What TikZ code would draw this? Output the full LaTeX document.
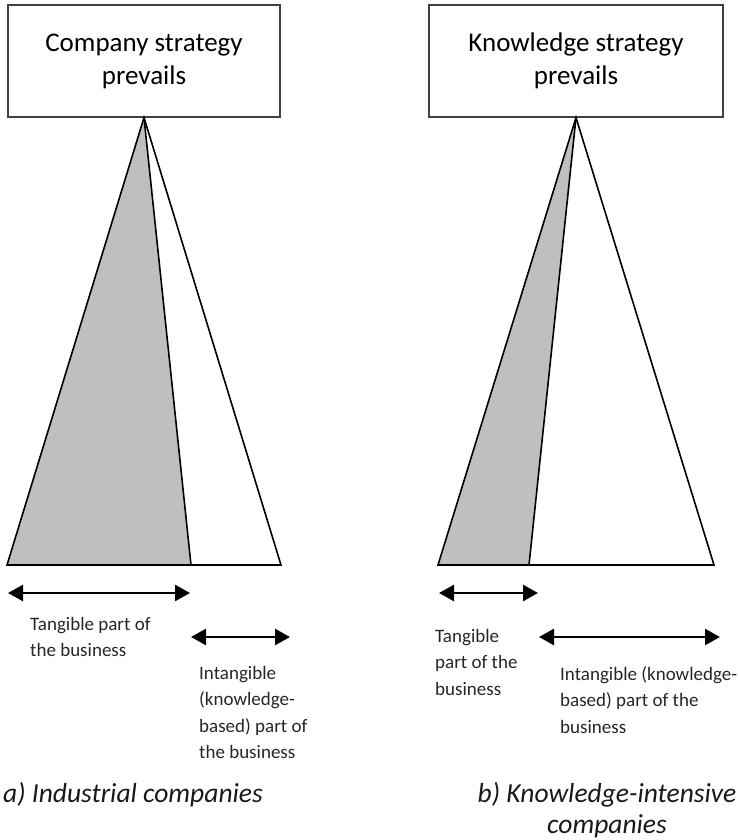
\documentclass[tikz,border=0pt]{standalone}
\usepackage{fontspec}
\setmainfont{Carlito}
\usetikzlibrary{arrows.meta}

\definecolor{boxline}{HTML}{404040}
\definecolor{tangible}{HTML}{BFBFBF}

\tikzset{
  headbox/.style={draw=boxline, line width=1.3pt, fill=white, align=center,
    font=\fontsize{27}{33}\selectfont, inner sep=0pt},
  edge/.style={draw=black, line width=1.6pt, line join=miter},
  span/.style={line width=2.6pt, {Triangle[length=15pt,width=16pt]}-{Triangle[length=15pt,width=16pt]}},
  % multi-line labels: the base anchor sits on the last line
  label/.style={align=left, anchor=base west, inner sep=0pt,
    font=\fontsize{19}{26.5}\selectfont, text=black!85},
  caption/.style={align=center, anchor=base, inner sep=0pt,
    font=\fontsize{27.5}{31}\selectfont\itshape, text=black!90}
}

\begin{document}
\begin{tikzpicture}[x=1pt, y=-1pt]
  \useasboundingbox (0,0) rectangle (738,840);

  % ---- a) industrial companies ----
  \node[headbox, minimum width=272pt, minimum height=112pt] (boxA) at (144,61)
    {Company strategy\\prevails};
  \coordinate (aL) at (7,565);
  \coordinate (aM) at (191,565);
  \coordinate (aR) at (281,565);
  \fill[tangible] (boxA.south) -- (aL) -- (aM) -- cycle;
  \draw[edge] (boxA.south) -- (aL) -- (aR) -- cycle;
  \draw[edge] (boxA.south) -- (aM);

  \coordinate (aT1) at (8,593);
  \coordinate (aT2) at (190,593);
  \coordinate (aI1) at (191,637);
  \coordinate (aI2) at (290,637);
  \draw[span] (aT1) -- (aT2);
  \draw[span] (aI1) -- (aI2);

  \node[label] (aTang) at (30,656.5) {Tangible part of\\the business};
  \node[label] (aIntang) at (199,758.5) {Intangible\\(knowledge-\\based) part of\\the business};
  \node[caption] (capA) at (133,802) {a) Industrial companies};

  % ---- b) knowledge-intensive companies ----
  \node[headbox, minimum width=294pt, minimum height=112pt] (boxB) at (576,61)
    {Knowledge strategy\\prevails};
  \coordinate (bL) at (438,565);
  \coordinate (bM) at (529,565);
  \coordinate (bR) at (714,565);
  \fill[tangible] (boxB.south) -- (bL) -- (bM) -- cycle;
  \draw[edge] (boxB.south) -- (bL) -- (bR) -- cycle;
  \draw[edge] (boxB.south) -- (bM);

  \coordinate (bT1) at (439,593);
  \coordinate (bT2) at (538,593);
  \coordinate (bI1) at (539,637);
  \coordinate (bI2) at (720,637);
  \draw[span] (bT1) -- (bT2);
  \draw[span] (bI1) -- (bI2);

  \node[label] (bTang) at (435,695) {Tangible\\part of the\\business};
  \node[label] (bIntang) at (560,733) {Intangible (knowledge-\\based) part of the\\business};
  \node[caption] (capB) at (607,833) {b) Knowledge-intensive\\companies};
\end{tikzpicture}
\end{document}
